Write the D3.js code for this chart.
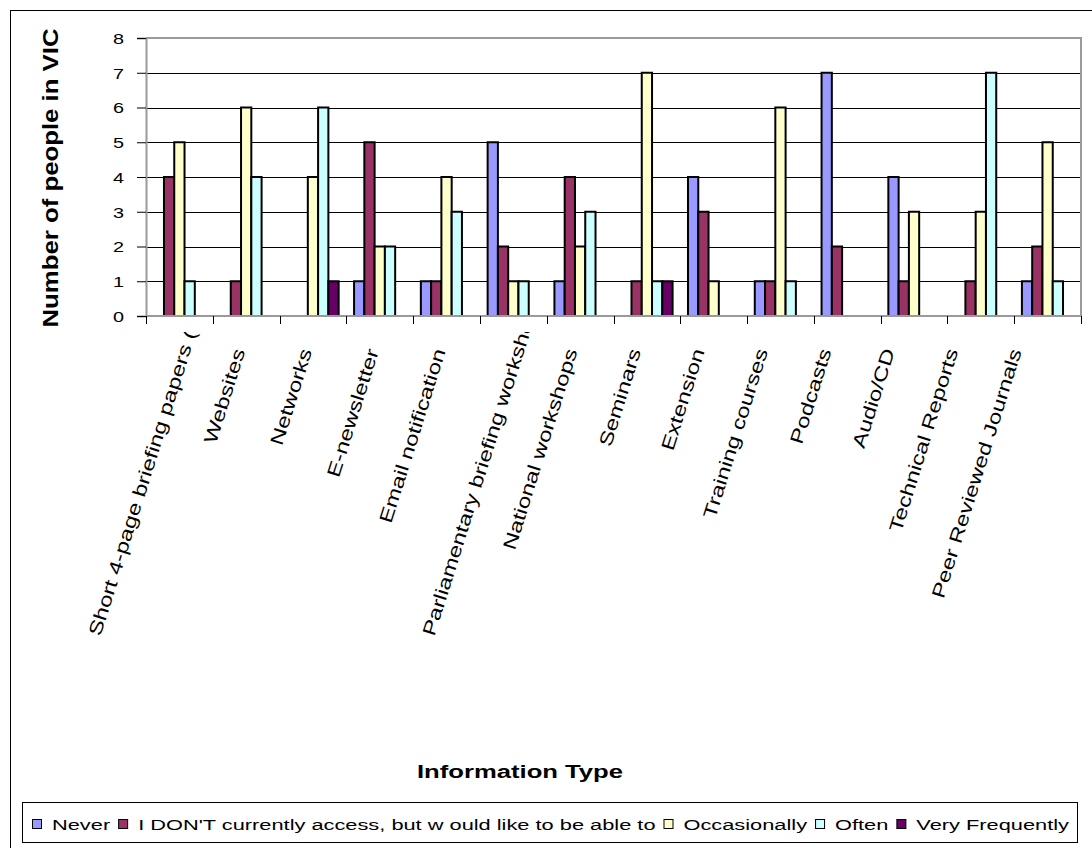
<!DOCTYPE html>
<html>
<head>
<meta charset="utf-8">
<script src="https://cdn.jsdelivr.net/npm/d3@7"></script>
<style>
  html, body { margin: 0; padding: 0; background: #fff; }
  svg { display: block; }
  text { font-family: "Liberation Sans", Arial, sans-serif; fill: #000; }
</style>
</head>
<body>
<svg id="chart" width="1092" height="848"></svg>
<script>
// Information types surveyed
const categories = [
  "Short 4-page briefing papers (",
  "Websites",
  "Networks",
  "E-newsletter",
  "Email notification",
  "Parliamentary briefing workshops",
  "National workshops",
  "Seminars",
  "Extension",
  "Training courses",
  "Podcasts",
  "Audio/CD",
  "Technical Reports",
  "Peer Reviewed Journals"
];

// Access frequency groups (legend order)
const seriesNames = [
  "Never",
  "I DON'T currently access, but w ould like to be able to",
  "Occasionally",
  "Often",
  "Very Frequently"
];
const seriesColors = ["#9999FF", "#993366", "#FFFFCC", "#CCFFFF", "#660066"];

// Number of respondents per information type
const never          = [0, 0, 0, 1, 1, 5, 1, 0, 4, 1, 7, 4, 0, 1];
const dontAccess     = [4, 1, 0, 5, 1, 2, 4, 1, 3, 1, 2, 1, 1, 2];
const occasionally   = [5, 6, 4, 2, 4, 1, 2, 7, 1, 6, 0, 3, 3, 5];
const often          = [1, 4, 6, 2, 3, 1, 3, 1, 0, 1, 0, 0, 7, 1];
const veryFrequently = [0, 0, 1, 0, 0, 0, 0, 1, 0, 0, 0, 0, 0, 0];

const yTicks = [0, 1, 2, 3, 4, 5, 6, 7, 8];

const yAxisTitle = "Number of people in VIC";
const xAxisTitle = "Information Type";

const seriesValues = [never, dontAccess, occasionally, often, veryFrequently];

const svg = d3.select("#chart");

// Plot geometry
const plot = { left: 146, right: 1081, top: 38, bottom: 316 };

const x = d3.scaleBand().domain(categories).range([plot.left, plot.right]).paddingInner(0).paddingOuter(0);
const xs = d3.scaleBand().domain(d3.range(seriesNames.length)).range([0, x.bandwidth()])
  .paddingInner(0).paddingOuter(0.75);
const y = d3.scaleLinear().domain([0, 8]).range([plot.bottom, plot.top]);

// Outer chart frame (extends past the visible page on the right and bottom)
svg.append("rect")
  .attr("x", 10.5).attr("y", 10.5).attr("width", 1120).attr("height", 900)
  .attr("fill", "#fff").attr("stroke", "#000").attr("stroke-width", 1);

// Gridlines
svg.append("g").selectAll("line")
  .data(yTicks.filter(t => t > 0 && t < 8))
  .join("line")
  .attr("x1", plot.left).attr("x2", plot.right)
  .attr("y1", d => Math.round(y(d)) + 0.5).attr("y2", d => Math.round(y(d)) + 0.5)
  .attr("stroke", "#000").attr("stroke-width", 1);

// Plot area border (top and right)
svg.append("path")
  .attr("d", `M${plot.left},${plot.top}H${plot.right}V${plot.bottom}`)
  .attr("fill", "none").attr("stroke", "#9a9a9a").attr("stroke-width", 2);

// Bars
const barData = [];
seriesValues.forEach((vals, si) => {
  vals.forEach((v, ci) => {
    if (v > 0) barData.push({ si, ci, v });
  });
});
svg.append("g").selectAll("rect")
  .data(barData)
  .join("rect")
  .attr("x", d => x(categories[d.ci]) + xs(d.si))
  .attr("width", xs.bandwidth())
  .attr("y", d => y(d.v))
  .attr("height", d => y(0) - y(d.v))
  .attr("fill", d => seriesColors[d.si])
  .attr("stroke", "#000").attr("stroke-width", 2);

// Y axis
const yAxis = d3.axisLeft(y).tickValues(yTicks).tickSize(9).tickFormat(d3.format("d"));
const yg = svg.append("g").attr("transform", `translate(${plot.left},0)`).call(yAxis);
yg.select(".domain").attr("stroke", "#9a9a9a").attr("stroke-width", 2);
yg.selectAll(".tick line").attr("stroke", "#000");
yg.selectAll(".tick text")
  .attr("x", 0).attr("dy", "0.35em")
  .attr("font-size", 15.5)
  .attr("text-anchor", "end")
  .attr("transform", "translate(-22,0) scale(1.28,1)");

// X axis (tick marks at category boundaries)
const xg = svg.append("g");
xg.append("line")
  .attr("x1", plot.left).attr("x2", plot.right)
  .attr("y1", plot.bottom).attr("y2", plot.bottom)
  .attr("stroke", "#9a9a9a").attr("stroke-width", 2);
const boundaries = categories.map(c => x(c)).concat([plot.right]);
xg.selectAll("line.tk").data(boundaries).join("line").attr("class", "tk")
  .attr("x1", d => Math.round(d) + 0.5).attr("x2", d => Math.round(d) + 0.5)
  .attr("y1", plot.bottom).attr("y2", plot.bottom + 8)
  .attr("stroke", "#000").attr("stroke-width", 1);

// Category labels, rotated; long labels are cut off at the top of the label band
const labelAngle = -72.5;
const labelSx = 1.3;
const labelSize = 18.5;
const labelTopY = 349;
const labelMaxLen = 300;
const rad = labelAngle * Math.PI / 180;
const dir = [Math.cos(rad), Math.sin(rad)]; // along the text baseline
// labels toward the right end drift slightly left of their group centre
const labelDrift = c => -Math.max(0, c - 550) * 0.05;

svg.append("defs").append("clipPath").attr("id", "labelClip")
  .append("rect").attr("x", 0).attr("y", 332).attr("width", 1092).attr("height", 420);

const lg = svg.append("g").attr("clip-path", "url(#labelClip)");
categories.forEach(c => {
  const center = x(c) + x.bandwidth() / 2;
  const cx = center + labelDrift(center);
  const t = lg.append("text")
    .attr("font-size", labelSize)
    .attr("dy", "0.35em")
    .text(c);
  const len = t.node().getComputedTextLength() * labelSx;
  let px, py;
  if (len <= labelMaxLen) {
    px = cx - 7 - dir[0] * len; py = labelTopY - dir[1] * len;
  } else {
    px = cx + 5 - dir[0] * labelMaxLen; py = labelTopY - dir[1] * labelMaxLen;
  }
  t.attr("text-anchor", "start")
   .attr("transform", `translate(${px},${py}) rotate(${labelAngle}) scale(${labelSx},1)`);
});

// Axis titles
svg.append("text")
  .attr("transform", "translate(50,178) rotate(-90) scale(1.12,1)")
  .attr("text-anchor", "middle").attr("dy", "0.35em")
  .attr("font-size", 23).attr("font-weight", "bold")
  .text(yAxisTitle);

svg.append("text")
  .attr("transform", "translate(520,778) scale(1.35,1)")
  .attr("text-anchor", "middle")
  .attr("font-size", 19).attr("font-weight", "bold")
  .text(xAxisTitle);

// Legend
const legend = svg.append("g");
legend.append("rect")
  .attr("x", 22.5).attr("y", 802.5).attr("width", 1055).attr("height", 40)
  .attr("fill", "#fff").attr("stroke", "#000").attr("stroke-width", 1);
const legendSx = 1.407;
const legendSize = 15.5;
let lx = 32;
seriesNames.forEach((name, i) => {
  legend.append("rect")
    .attr("x", lx + 0.5).attr("y", 819.5).attr("width", 9).attr("height", 9)
    .attr("fill", seriesColors[i]).attr("stroke", "#000").attr("stroke-width", 1);
  const t = legend.append("text")
    .attr("font-size", legendSize)
    .attr("transform", `translate(${lx + 20},829.5) scale(${legendSx},1)`)
    .text(name);
  const w = t.node().getComputedTextLength() * legendSx;
  lx = lx + 20 + w + 8;
});
</script>
</body>
</html>
